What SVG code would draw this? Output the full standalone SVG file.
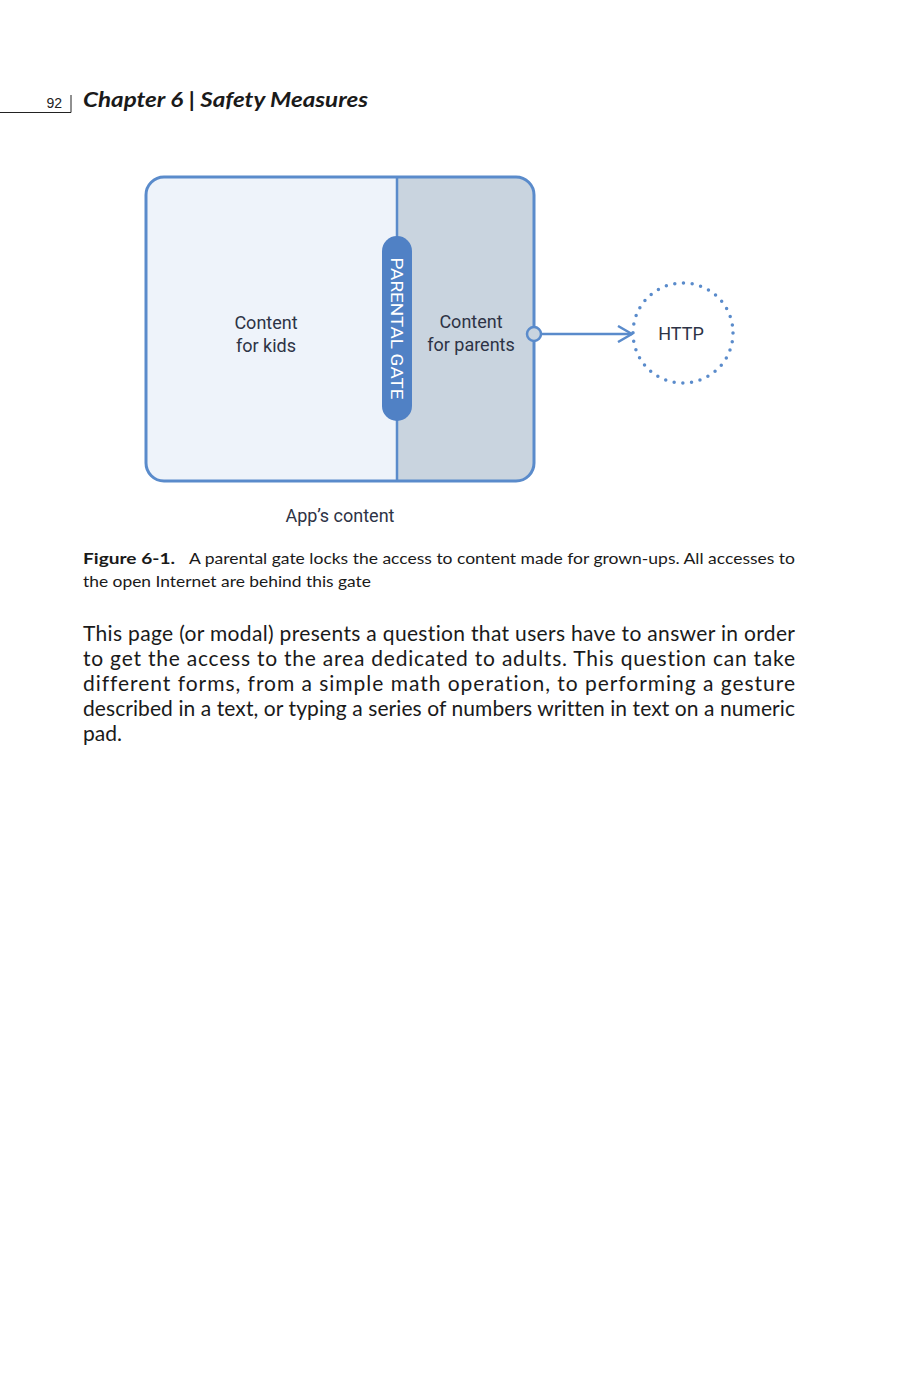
<svg xmlns="http://www.w3.org/2000/svg" width="916" height="1388" viewBox="0 0 916 1388">
<style>
.ui{font-family:Roboto,"Liberation Sans",sans-serif;fill:#2d3346;font-size:18px}
.book{font-family:Lato,"Liberation Sans",sans-serif;fill:#1a1a1a;font-variant-ligatures:none}
.blue{stroke:#5a8bcb;fill:none}
</style>
<defs>
<marker id="chev" viewBox="0 0 16 18" refX="15" refY="9" markerWidth="16" markerHeight="18" markerUnits="userSpaceOnUse" orient="auto">
<path d="M1,1 L15,9 L1,17" fill="none" stroke="#5a8bcb" stroke-width="2.5" stroke-linejoin="miter"/>
</marker>
</defs>
<rect width="916" height="1388" fill="#ffffff"/>
<g id="header">
<path d="M0,112.5 H71 V95" fill="none" stroke="#222" stroke-width="1"/>
<text x="62" y="108" text-anchor="end" font-family="Liberation Sans,sans-serif" font-size="14" fill="#222">92</text>
<text x="83" y="107" font-family="Lato,'Liberation Sans',sans-serif" font-size="21" font-weight="bold" font-style="italic" fill="#1a1a1a" textLength="285" lengthAdjust="spacingAndGlyphs">Chapter 6 | Safety Measures</text>
</g>
<g id="app">
<path d="M164,177 H397 V481 H164 A18,18 0 0 1 146,463 V195 A18,18 0 0 1 164,177 Z" fill="#eef3fa"/>
<path d="M397,177 H516 A18,18 0 0 1 534,195 V463 A18,18 0 0 1 516,481 H397 Z" fill="#c9d4df"/>
<rect x="146" y="177" width="388" height="304" rx="18" class="blue" stroke-width="3"/>
<line x1="397" y1="177" x2="397" y2="481" class="blue" stroke-width="2.5"/>
</g>
<g id="kids">
<text class="ui" x="266" y="329" text-anchor="middle">Content</text>
<text class="ui" x="266" y="352" text-anchor="middle">for kids</text>
</g>
<g id="parents">
<text class="ui" x="471" y="328" text-anchor="middle">Content</text>
<text class="ui" x="471" y="351" text-anchor="middle">for parents</text>
</g>
<g id="gate">
<rect x="382" y="236" width="30" height="185" rx="15" fill="#5081c5"/>
<text x="0" y="0" transform="translate(391,328.5) rotate(90)" text-anchor="middle" font-family="Roboto,'Liberation Sans',sans-serif" font-size="16" fill="#ffffff" textLength="142" lengthAdjust="spacingAndGlyphs">PARENTAL GATE</text>
</g>
<g id="http">
<circle cx="683" cy="333" r="50" fill="none" stroke="#5a8bcb" stroke-width="3.5" stroke-linecap="round" stroke-dasharray="0 8.73"/>
<text class="ui" x="681" y="340" text-anchor="middle">HTTP</text>
</g>
<g id="connectors">
<line x1="541" y1="334" x2="632" y2="334" stroke="#5a8bcb" stroke-width="2.5" marker-end="url(#chev)"/>
<circle cx="534" cy="334" r="7" fill="#c9d4df" stroke="#5a8bcb" stroke-width="2.5"/>
</g>
<g id="label">
<text class="ui" x="340" y="522" text-anchor="middle">App’s content</text>
</g>
<g id="caption" class="book" font-size="16">
<text x="83" y="564" font-weight="bold" textLength="92" lengthAdjust="spacingAndGlyphs">Figure 6-1.</text>
<text x="189" y="564" textLength="606" lengthAdjust="spacingAndGlyphs">A parental gate locks the access to content made for grown-ups. All accesses to</text>
<text x="83" y="587" textLength="288" lengthAdjust="spacingAndGlyphs">the open Internet are behind this gate</text>
</g>
<g id="body" class="book" font-size="21">
<text x="83" y="641" textLength="712" lengthAdjust="spacing">This page (or modal) presents a question that users have to answer in order</text>
<text x="83" y="666" textLength="712" lengthAdjust="spacing">to get the access to the area dedicated to adults. This question can take</text>
<text x="83" y="691" textLength="712" lengthAdjust="spacing">different forms, from a simple math operation, to performing a gesture</text>
<text x="83" y="716" textLength="712" lengthAdjust="spacing">described in a text, or typing a series of numbers written in text on a numeric</text>
<text x="83" y="741">pad.</text>
</g>
</svg>
